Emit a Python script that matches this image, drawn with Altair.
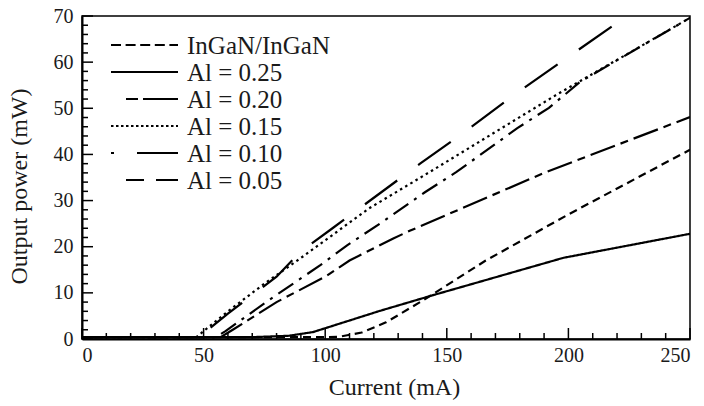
import altair as alt
import pandas as pd

# ---- data ----
series_names = ["InGaN/InGaN", "Al = 0.25", "Al = 0.20", "Al = 0.15", "Al = 0.10", "Al = 0.05"]

ingan_x = [0, 100, 106, 115, 125, 140, 166, 200, 246, 250]
ingan_y = [0.4, 0.4, 0.5, 1.4, 3.6, 8.3, 17.0, 27.0, 39.9, 41.0]

al25_x = [0, 70, 85, 95, 122.5, 145, 198, 250]
al25_y = [0.4, 0.4, 0.7, 1.5, 6.1, 9.6, 17.6, 22.8]

al20_x = [0, 57, 62, 80, 100, 110, 128, 135, 190, 250]
al20_y = [0.4, 0.4, 2.0, 8.0, 13.5, 17.0, 21.8, 23.5, 36.0, 48.1]

al15_x = [0, 47, 60, 75, 89.6, 118, 143, 195, 250]
al15_y = [0.4, 0.4, 6.0, 12.0, 17.4, 28.3, 36.2, 52.9, 69.6]

al10_x = [0, 55, 59, 76.5, 98, 109, 122.5, 141, 154, 179, 192, 205, 250]
al10_y = [0.4, 0.4, 1.7, 8.3, 16.0, 20.3, 25.0, 31.8, 36.2, 45.7, 50.1, 55.8, 69.6]

al05_x = [0, 48, 60, 80, 90, 103, 139, 154, 179, 224]
al05_y = [0.4, 0.4, 5.5, 13.5, 19.0, 24.0, 38.0, 43.6, 53.4, 70.0]

x_tick_values = list(range(0, 251, 10))
y_tick_values = list(range(0, 71, 2))
x_label_values = [0, 50, 100, 150, 200, 250]
y_label_values = [0, 10, 20, 30, 40, 50, 60, 70]

# ---- styles ----
dash_styles = [[8, 5], [1, 0], [26, 6, 8, 6], [2.5, 3.5], [18, 7, 3, 7], [40, 26]]
legend_dash_styles = [[10, 4.6], [1, 0], [0, 15, 12, 5, 36, 100], [2.5, 2.5],
                      [3, 23, 41, 100], [0, 15, 18, 12, 23, 100]]

series_xy = [(ingan_x, ingan_y), (al25_x, al25_y), (al20_x, al20_y),
             (al15_x, al15_y), (al10_x, al10_y), (al05_x, al05_y)]
rows = []
for name, (xs, ys) in zip(series_names, series_xy):
    for i, (xv, yv) in enumerate(zip(xs, ys)):
        rows.append({"series": name, "current": xv, "power": yv, "order": i})
df = pd.DataFrame(rows)

W, H = 608, 323
FONT = "Liberation Serif, Times New Roman, serif"
TXT = "#1a1a1a"

xscale = alt.Scale(domain=[0, 250], nice=False)
yscale = alt.Scale(domain=[0, 70], nice=False)


def xaxis():
    return alt.Axis(title="Current (mA)", values=x_label_values, titleX=312)


def yaxis():
    return alt.Axis(title="Output power (mW)", values=y_label_values, titleY=170)


lines = alt.Chart(df).mark_line(color="black", strokeWidth=2.2, clip=True).encode(
    x=alt.X("current:Q", scale=xscale, axis=xaxis()),
    y=alt.Y("power:Q", scale=yscale, axis=yaxis()),
    strokeDash=alt.StrokeDash("series:N",
                              scale=alt.Scale(domain=series_names, range=dash_styles),
                              legend=None),
    order="order:Q",
)

xt = pd.DataFrame({"t": x_tick_values})
xt["major"] = xt["t"] % 50 == 0
yt = pd.DataFrame({"t": y_tick_values})
yt["major"] = yt["t"] % 10 == 0

x_minor = alt.Chart(xt[~xt["major"]]).mark_rule(color="black", strokeWidth=1.5).encode(
    x=alt.X("t:Q", scale=xscale, axis=xaxis()), y=alt.value(H), y2=alt.value(H - 6))
x_major = alt.Chart(xt[xt["major"]]).mark_rule(color="black", strokeWidth=1.5).encode(
    x=alt.X("t:Q", scale=xscale, axis=xaxis()), y=alt.value(H), y2=alt.value(H - 11))
y_minor = alt.Chart(yt[~yt["major"]]).mark_rule(color="black", strokeWidth=1.5).encode(
    y=alt.Y("t:Q", scale=yscale, axis=yaxis()), x=alt.value(0), x2=alt.value(6))
y_major = alt.Chart(yt[yt["major"]]).mark_rule(color="black", strokeWidth=1.5).encode(
    y=alt.Y("t:Q", scale=yscale, axis=yaxis()), x=alt.value(0), x2=alt.value(11))

main = alt.layer(lines, x_minor, x_major, y_minor, y_major)

# ---- hand-drawn legend ----
legend_df = pd.DataFrame({"series": series_names})
leg_y = alt.Scale(type="point", domain=series_names, range=[29, 164], padding=0)
leg_lines = alt.Chart(legend_df).mark_rule(color="black", strokeWidth=2.2).encode(
    y=alt.Y("series:N", scale=leg_y, axis=None),
    x=alt.value(29), x2=alt.value(96),
    strokeDash=alt.StrokeDash("series:N",
                              scale=alt.Scale(domain=series_names, range=legend_dash_styles),
                              legend=None),
)
leg_text = alt.Chart(legend_df).mark_text(
    align="left", baseline="middle", font=FONT, fontSize=25, color=TXT, dy=1
).encode(
    y=alt.Y("series:N", scale=leg_y, axis=None),
    x=alt.value(105),
    text="series:N",
)
legend = alt.layer(leg_lines, leg_text)

chart = alt.layer(main, legend).resolve_scale(
    y="independent", strokeDash="independent"
).properties(
    width=W, height=H,
    autosize=alt.AutoSizeParams(type="none"),
    padding={"left": 82, "top": 16, "right": 14, "bottom": 67},
    background="white",
).configure_view(
    stroke="black", strokeWidth=1.5
).configure_axis(
    labelFont=FONT, labelFontSize=20, labelColor=TXT,
    titleFont=FONT, titleFontSize=24, titleFontWeight="normal", titleColor=TXT,
    domainColor="black", domainWidth=2, ticks=False, grid=False,
).configure_axisX(
    labelPadding=6, titlePadding=10,
).configure_axisY(
    labelPadding=9, titlePadding=22,
)

chart.save("out.html", embed_options={"renderer": "svg", "actions": False})
